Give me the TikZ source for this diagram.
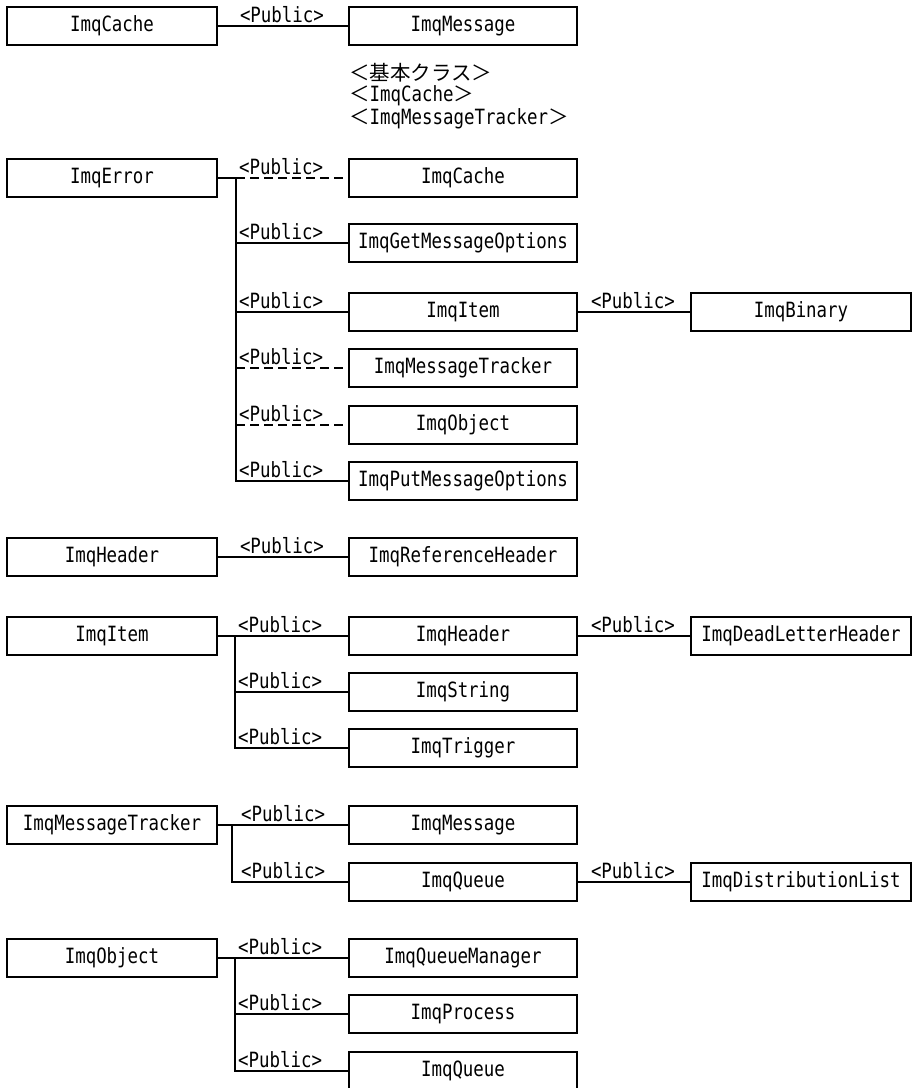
\documentclass[tikz,border=0pt]{standalone}
\usepackage{fontspec}
\newfontfamily\lab[FakeStretch=0.83]{DejaVu Sans Mono}
\newfontfamily\cjk{Noto Sans CJK JP}
\newcommand\fw[1]{{\cjk\fontsize{20.5}{20.5}\selectfont #1}}
\begin{document}
\begin{tikzpicture}[x=1pt,y=-1pt,
  cls/.style={draw, line width=1.6pt, minimum height=38pt, inner sep=0pt,
    font=\lab\fontsize{21}{21}\selectfont},
  lcls/.style={cls, minimum width=210pt},
  mcls/.style={cls, minimum width=228pt},
  rcls/.style={cls, minimum width=220pt},
  conn/.style={line width=1.6pt},
  dconn/.style={line width=1.6pt, dash pattern=on 9pt off 5pt},
  pub/.style={anchor=south west, inner sep=0pt, font=\lab\fontsize{21}{21}\selectfont},
  note/.style={anchor=west, inner sep=0pt, font=\lab\fontsize{21}{21}\selectfont}]
\useasboundingbox (0,0) rectangle (912,1088);

% ImqCache -> ImqMessage
\node[lcls] (a0) at (112,26) {ImqCache};
\node[mcls] (a1) at (463,26) {ImqMessage};
\draw[conn] (a0.east) -- (a1.west);
\path (a0.east) ++(22,-3) node[pub] {<Public>};
\node[note] (b1) at (349,73) {\fw{＜基本クラス＞}};
\node[note] (b2) at (349,96) {\fw{＜}ImqCache\fw{＞}};
\node[note] (b3) at (349,119) {\fw{＜}ImqMessageTracker\fw{＞}};

% ImqError
\node[lcls] (e0) at (112,178) {ImqError};
\node[mcls] (e1) at (463,178) {ImqCache};
\node[mcls] (e2) at (463,243) {ImqGetMessageOptions};
\node[mcls] (e3) at (463,312) {ImqItem};
\node[mcls] (e4) at (463,368) {ImqMessageTracker};
\node[mcls] (e5) at (463,425) {ImqObject};
\node[mcls] (e6) at (463,481) {ImqPutMessageOptions};
\node[rcls] (eb) at (801,312) {ImqBinary};
\coordinate (et) at (236,178);
\draw[conn] (e0.east) -- (et) -- (et |- e6.west) -- (e6.west);
\draw[dconn] (et) -- (e1.west);
\draw[conn] (et |- e2.west) -- (e2.west);
\draw[conn] (et |- e3.west) -- (e3.west);
\draw[dconn] (et |- e4.west) -- (e4.west);
\draw[dconn] (et |- e5.west) -- (e5.west);
\draw[conn] (e3.east) -- (eb.west);
\foreach \c in {e1,e2,e3,e4,e5,e6}
  \path (et |- \c.west) ++(3,-3) node[pub] {<Public>};
\path (e3.east) ++(13,-3) node[pub] {<Public>};

% ImqHeader
\node[lcls] (h0) at (112,557) {ImqHeader};
\node[mcls] (h1) at (463,557) {ImqReferenceHeader};
\draw[conn] (h0.east) -- (h1.west);
\path (h0.east) ++(22,-3) node[pub] {<Public>};

% ImqItem
\node[lcls] (i0) at (112,636) {ImqItem};
\node[mcls] (i1) at (463,636) {ImqHeader};
\node[mcls] (i2) at (463,692) {ImqString};
\node[mcls] (i3) at (463,748) {ImqTrigger};
\node[rcls] (id) at (801,636) {ImqDeadLetterHeader};
\coordinate (it) at (235,636);
\draw[conn] (i0.east) -- (i1.west);
\draw[conn] (it) -- (it |- i3.west) -- (i3.west);
\draw[conn] (it |- i2.west) -- (i2.west);
\draw[conn] (i1.east) -- (id.west);
\foreach \c in {i1,i2,i3}
  \path (it |- \c.west) ++(3,-3) node[pub] {<Public>};
\path (i1.east) ++(13,-3) node[pub] {<Public>};

% ImqMessageTracker
\node[lcls] (m0) at (112,825) {ImqMessageTracker};
\node[mcls] (m1) at (463,825) {ImqMessage};
\node[mcls] (m2) at (463,882) {ImqQueue};
\node[rcls] (md) at (801,882) {ImqDistributionList};
\coordinate (mt) at (232,825);
\draw[conn] (m0.east) -- (m1.west);
\draw[conn] (mt) -- (mt |- m2.west) -- (m2.west);
\draw[conn] (m2.east) -- (md.west);
\foreach \c in {m1,m2}
  \path (mt |- \c.west) ++(9,-3) node[pub] {<Public>};
\path (m2.east) ++(13,-3) node[pub] {<Public>};

% ImqObject
\node[lcls] (o0) at (112,958) {ImqObject};
\node[mcls] (o1) at (463,958) {ImqQueueManager};
\node[mcls] (o2) at (463,1014) {ImqProcess};
\node[mcls] (o3) at (463,1071) {ImqQueue};
\coordinate (ot) at (235,958);
\draw[conn] (o0.east) -- (o1.west);
\draw[conn] (ot) -- (ot |- o3.west) -- (o3.west);
\draw[conn] (ot |- o2.west) -- (o2.west);
\foreach \c in {o1,o2,o3}
  \path (ot |- \c.west) ++(3,-3) node[pub] {<Public>};
\end{tikzpicture}
\end{document}
